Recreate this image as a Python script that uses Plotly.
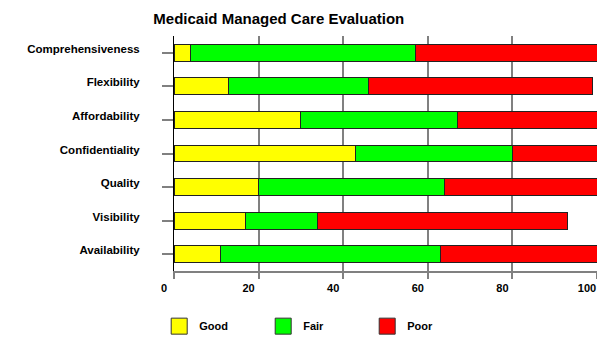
import plotly.graph_objects as go

categories = ["Comprehensiveness", "Flexibility", "Affordability", "Confidentiality",
              "Quality", "Visibility", "Availability"]
good = [4, 13, 30, 43, 20, 17, 11]
fair = [53, 33, 37, 37, 44, 17, 52]
poor = [43, 53, 33, 20, 36, 59, 37]
series_names = ["Good", "Fair", "Poor"]
series_colors = ["#FFFF00", "#00FF00", "#FF0000"]
x_ticks = [0, 20, 40, 60, 80, 100]
title_text = "Medicaid Managed Care Evaluation"

FONT = "Liberation Sans"
fig = go.Figure()
for name, vals, col in zip(series_names, [good, fair, poor], series_colors):
    fig.add_trace(go.Bar(
        y=categories, x=vals, name=name, orientation="h",
        marker=dict(color=col, line=dict(color="#222222", width=1)),
        width=0.5, showlegend=False,
    ))
# legend proxies
for name, col in zip(series_names, series_colors):
    fig.add_trace(go.Scatter(
        x=[None], y=[None], name=name, mode="markers",
        marker=dict(symbol="square", size=16, color=col, line=dict(color="#333333", width=1)),
        showlegend=True,
    ))

fig.update_layout(
    barmode="stack",
    width=597, height=337,
    margin=dict(l=174, r=0, t=36, b=66, autoexpand=False),
    paper_bgcolor="white", plot_bgcolor="white",
    title=dict(text="<b>" + title_text + "</b>", x=0.467, xanchor="center", y=0.945, yanchor="middle",
               font=dict(family=FONT, size=15, color="black")),
    font=dict(family=FONT, color="black"),
    legend=dict(orientation="h", traceorder="normal", x=-0.035, xanchor="left", y=-0.173, yanchor="top",
                entrywidth=59, entrywidthmode="pixels", itemwidth=30,
                font=dict(family=FONT, size=11, color="black", weight="bold"),
                bgcolor="rgba(0,0,0,0)"),
    xaxis=dict(range=[0, 100], tickvals=x_ticks, ticktext=[str(v) for v in x_ticks],
               showgrid=True, gridcolor="#808080", gridwidth=1.5,
               showline=True, linecolor="#808080", linewidth=1.5,
               ticks="outside", ticklen=6, tickcolor="#808080", tickwidth=1.5,
               ticklabelshift=-10,
               tickfont=dict(family=FONT, size=11, color="black", weight="bold"),
               zeroline=False, fixedrange=True),
    yaxis=dict(categoryorder="array", categoryarray=categories, autorange="reversed",
               showgrid=False, showline=True, linecolor="black", linewidth=1,
               ticks="outside", ticklen=11, tickcolor="#808080", tickwidth=1.5,
               ticklabelstandoff=20, ticklabelshift=4,
               tickfont=dict(family=FONT, size=11.5, color="black", weight="bold"),
               fixedrange=True),
)
fig.write_html("out.html")
